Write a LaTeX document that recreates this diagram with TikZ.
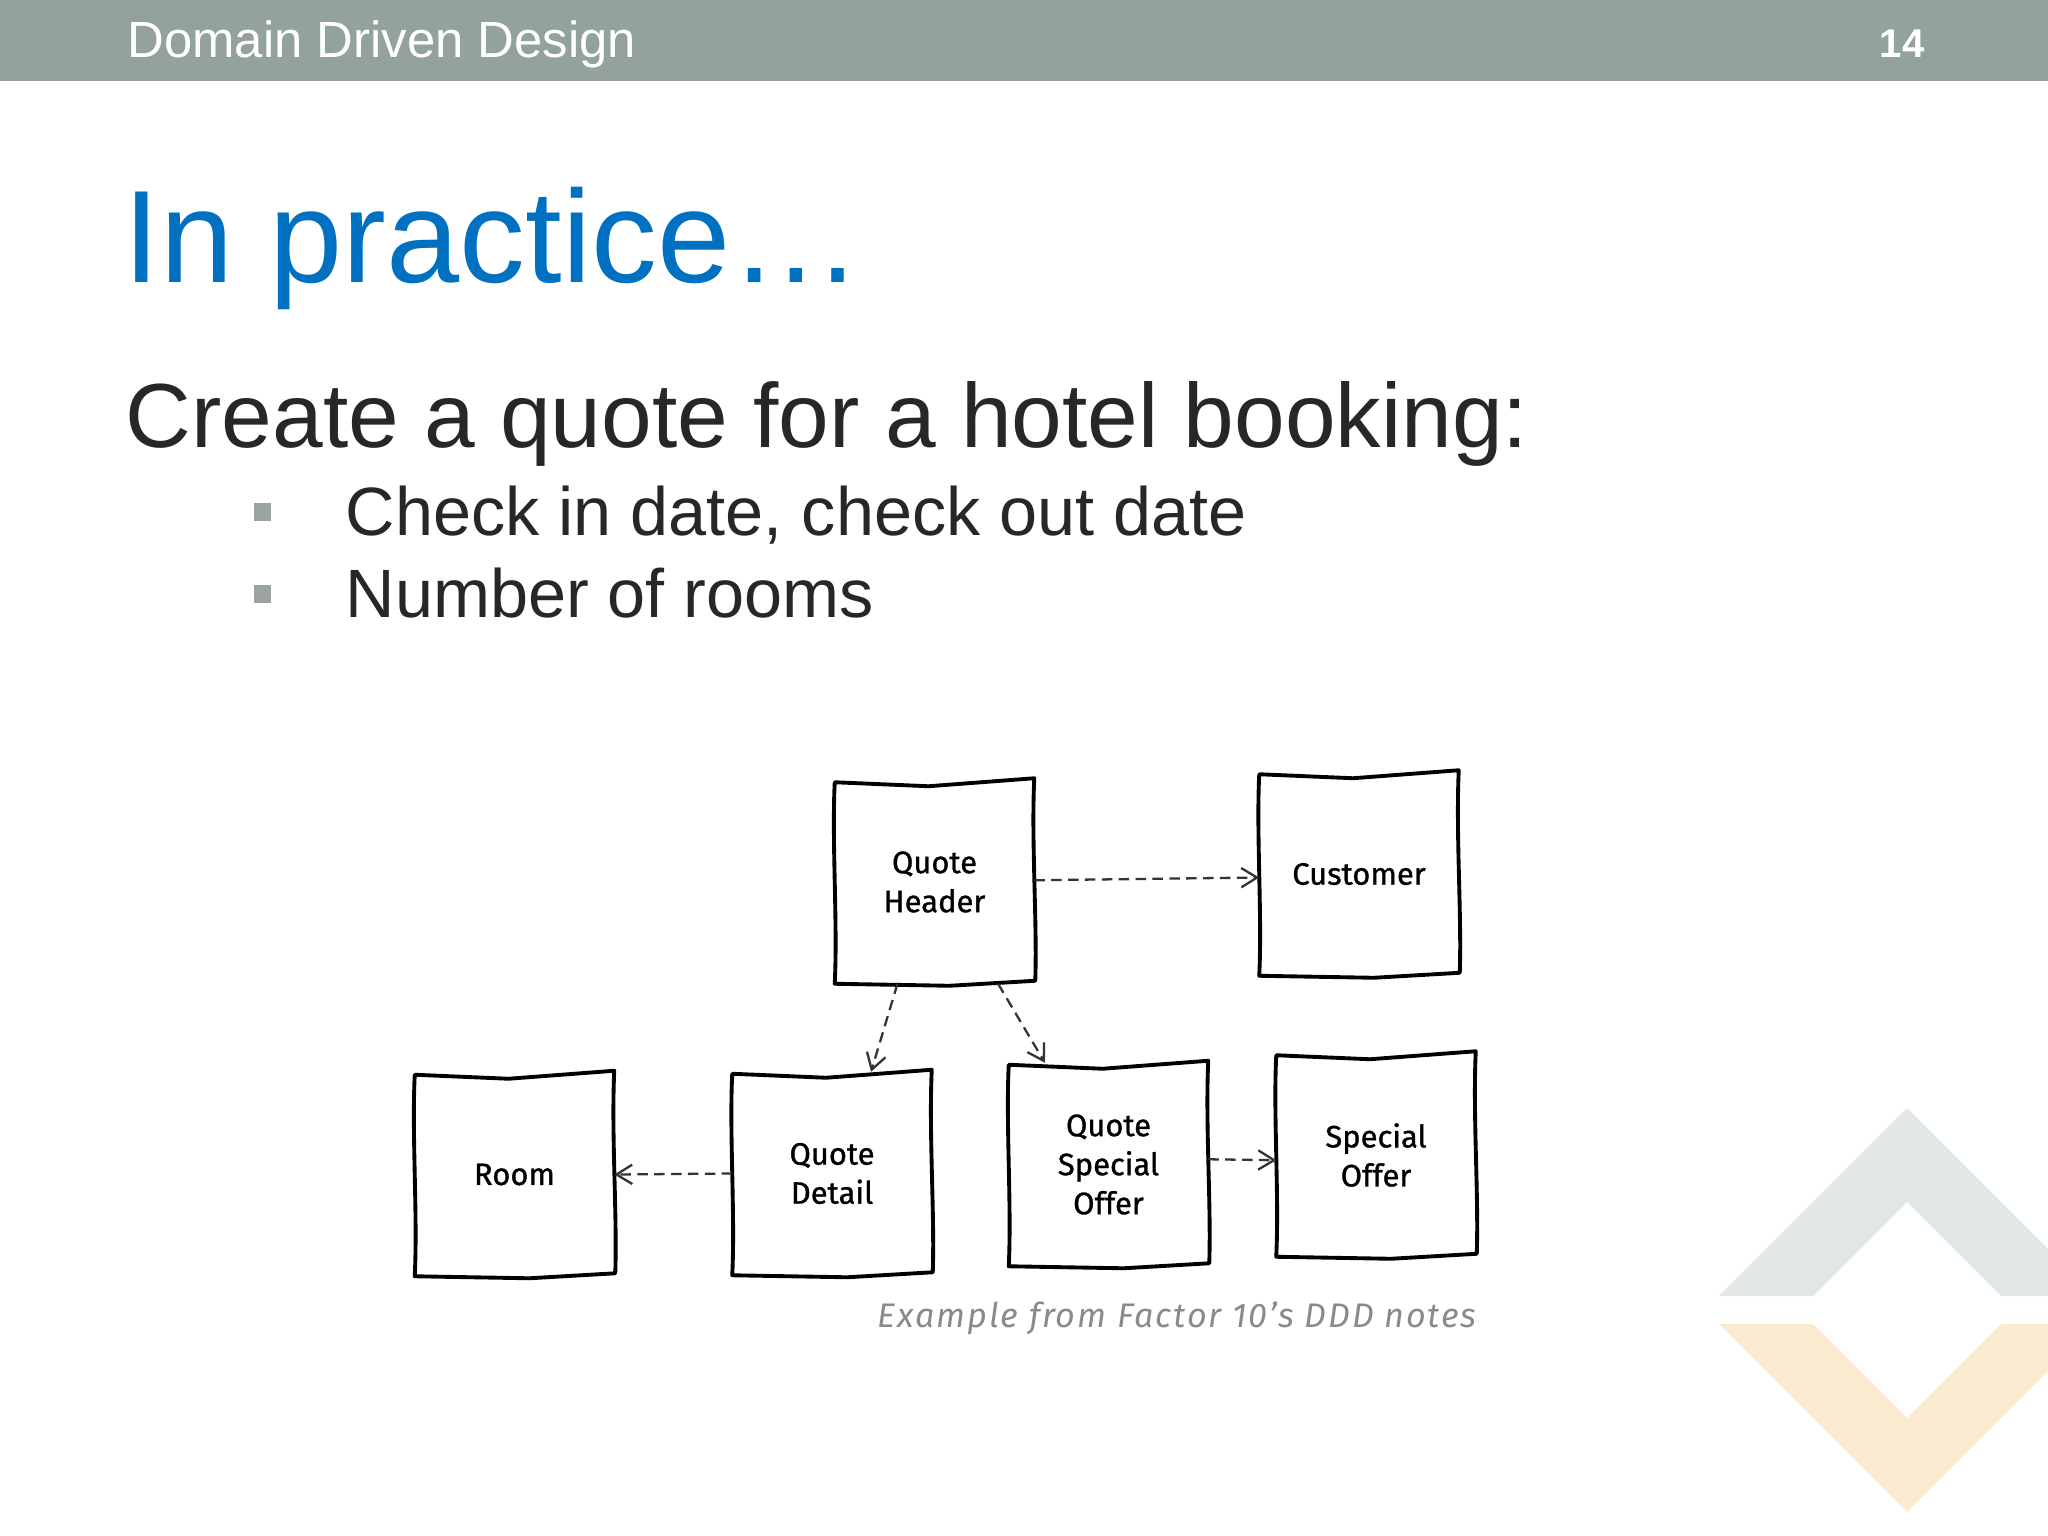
\documentclass[tikz,border=0pt]{standalone}
\usepackage{fontspec}
\setmainfont{Liberation Sans}
\newfontfamily\sketchfont[FakeBold=1]{Fira Sans}
\newfontfamily\notefont[LetterSpace=5.5]{Fira Sans}
\usetikzlibrary{arrows.meta,calc}
\definecolor{barcol}{HTML}{93A29A}
\definecolor{titleblue}{HTML}{0070C0}
\definecolor{bodytext}{HTML}{272727}
\definecolor{bulletgray}{HTML}{9AA39D}
\definecolor{logogray}{HTML}{E1E6E6}
\definecolor{logogold}{HTML}{FAEBD0}
\definecolor{notegray}{HTML}{8A8A8A}

\begin{document}
\begin{tikzpicture}[x=0.01cm, y=-0.01cm,
    txt/.style={anchor=base west, inner sep=0pt},
    entity/.style={minimum width=1.98cm, minimum height=2.02cm, inner sep=0pt, align=center, font=\sketchfont\fontsize{8.8}{11.1}\selectfont},
    outline/.style={line width=1.1pt, line join=round},
    link/.style={-{Straight Barb[length=4.5pt,width=5.5pt]}, dash pattern=on 3pt off 1.8pt, line width=0.65pt, black!80}]

    \useasboundingbox (0,0) rectangle (2048,1536);

    % title bar
    \fill [barcol] (0,0) rectangle (2048,81);
    \node [txt, text=white, font=\fontsize{14.45}{17}\selectfont] (topic) at (127,57) {Domain Driven Design};
    \node [anchor=base east, inner sep=0pt, text=white, font=\bfseries\fontsize{11.4}{14}\selectfont] (page) at (1925,57) {14};

    \node [txt, text=titleblue, font=\fontsize{37.4}{44}\selectfont] (title) at (123,282) {In practice\ldots};
    \node [txt, text=bodytext, font=\fontsize{25.9}{31}\selectfont] (task) at (125,447) {Create a quote for a hotel booking:};

    \fill [bulletgray] (254,503) rectangle (271,521);
    \node [txt, text=bodytext, font=\fontsize{19.45}{23}\selectfont] (item1) at (345,535) {Check in date, check out date};
    \fill [bulletgray] (254,585) rectangle (271,603);
    \node [txt, text=bodytext, font=\fontsize{19.45}{23}\selectfont] (item2) at (345,617) {Number of rooms};

    % model
    \node [entity] (header) at (934.5,882) {Quote\\Header};
    \node [entity] (customer) at (1359,874) {Customer};
    \node [entity] (room) at (514.5,1174.5) {Room};
    \node [entity] (detail) at (832,1173.5) {Quote\\Detail};
    \node [entity] (qso) at (1108.5,1164.5) {Quote\\Special\\Offer};
    \node [entity] (special) at (1376,1155) {Special\\Offer};

    \foreach \b in {header,customer,room,detail,qso,special}
        \draw [outline] ($(\b.north west)+(0,2)$) -- ($(\b.north)+(-6,6)$) -- ($(\b.north east)+(0,-2)$)
            .. controls ($(\b.east)+(-3,-40)$) and ($(\b.east)+(3,40)$) .. ($(\b.south east)+(1,-3)$)
            -- ($(\b.south)+(15,2)$) -- (\b.south west)
            .. controls ($(\b.west)+(3,40)$) and ($(\b.west)+(-3,-40)$) .. cycle;

    \draw [link] (header.1) -- (customer.182);
    \draw [link] (header.250) -- (detail.69);
    \draw [link] (header.302) -- (qso.122);
    \draw [link] (detail.west) -- (room.east);
    \draw [link] (qso.3) -- (special.183);

    \node [anchor=base east, inner sep=0pt, text=notegray, font=\notefont\itshape\fontsize{9.7}{12}\selectfont] (source) at (1477,1327) {Example from Factor 10’s DDD notes};

    % logo
    \fill [logogray] (1719,1296) -- (1907,1108) -- (2048,1249) -- (2048,1296) -- (2001,1296) -- (1907,1202) -- (1813,1296) -- cycle;
    \fill [logogold] (1719,1324) -- (1907,1512) -- (2048,1371) -- (2048,1324) -- (2001,1324) -- (1907,1418) -- (1813,1324) -- cycle;

\end{tikzpicture}
\end{document}
